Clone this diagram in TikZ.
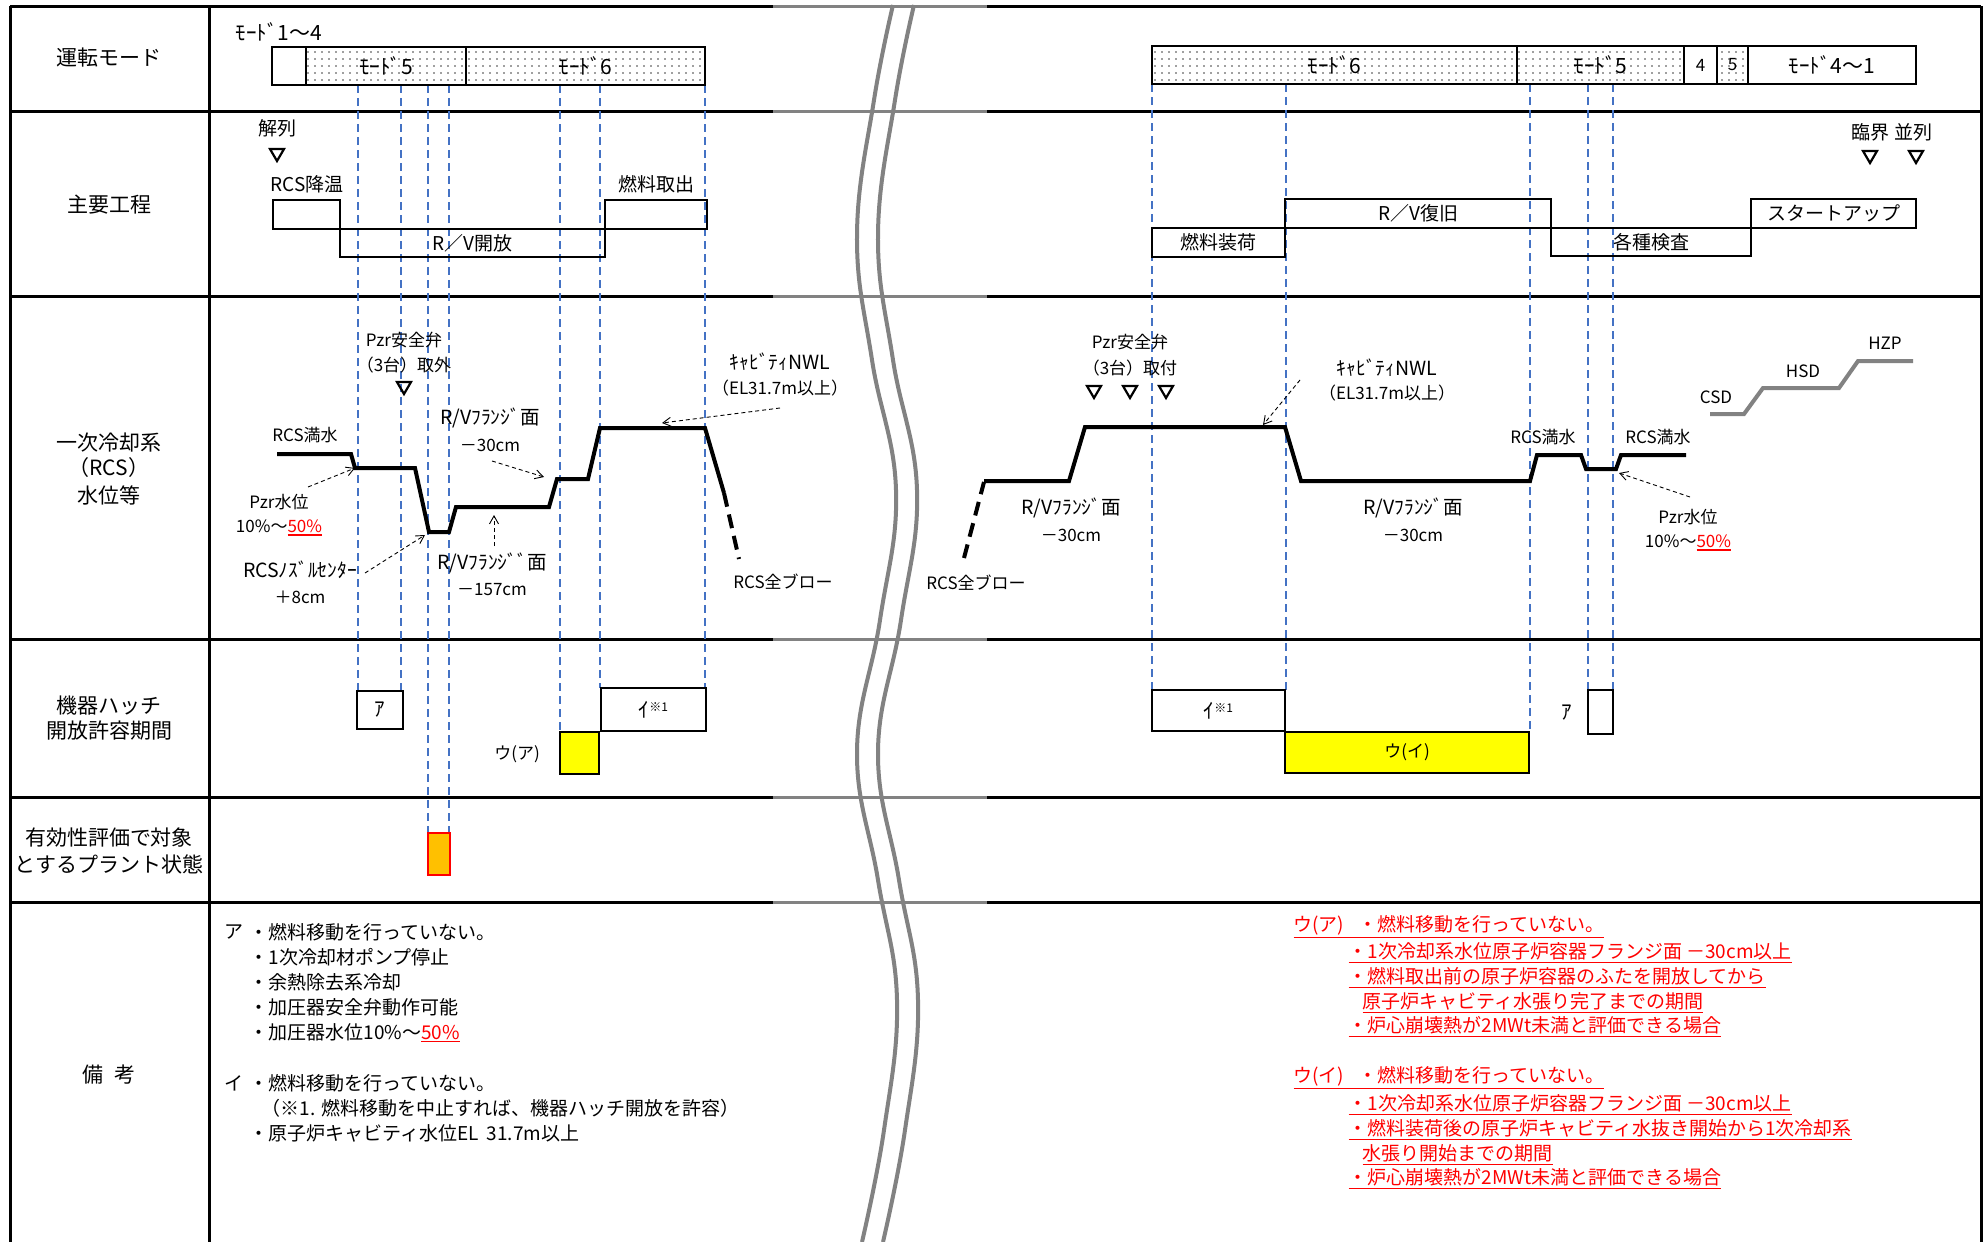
\documentclass[tikz,border=0pt]{standalone}
\usepackage{fontspec}
\setmainfont{Noto Sans CJK JP}
\usetikzlibrary{arrows.meta,patterns.meta}
\definecolor{gblue}{RGB}{68,114,196}
\definecolor{hlyellow}{RGB}{255,255,0}
\definecolor{hlorange}{RGB}{255,192,0}
\definecolor{brkgray}{RGB}{130,130,130}
\newcommand\ulin[1]{\vtop{\hbox{#1}\kern1.2pt\hrule height 1.6pt}}
\newcommand\drawbox[7]{\node[#6, minimum width={#4-#2}, minimum height={#5-#3}] (#1) at ({(#2+#4)/2},{(#3+#5)/2}) {#7};}
\newcommand\tridown[2]{\draw[line width=2.2pt, line join=miter] ({#1-7},{#2-6}) -- ({#1+7},{#2-6}) -- (#1,{#2+6}) -- cycle;}
\begin{document}
\begin{tikzpicture}[x=1pt,y=-1pt,
  tbl/.style={line width=3pt, black},
  guide/.style={gblue, line width=2pt, dash pattern=on 8pt off 5pt},
  lvl/.style={line width=4pt, line join=miter},
  lvldash/.style={line width=4pt, dash pattern=on 14pt off 8pt},
  ann/.style={line width=0.9pt, dash pattern=on 4pt off 3pt, -{Straight Barb[length=8pt,width=9pt]}},
  box/.style={draw, line width=2.8pt, inner sep=0pt},
  dotbox/.style={box, pattern={Dots[distance=7pt,radius=0.9pt]}, pattern color=black!75},
  fL/.style={font=\fontsize{21}{25}\selectfont},
  fM/.style={font=\fontsize{19}{23}\selectfont},
  fS/.style={font=\fontsize{17}{20}\selectfont},
  fK/.style={font=\fontsize{19.5}{22}\selectfont},
  fMode/.style={font=\fontsize{21}{24}\selectfont},
  fR/.style={font=\fontsize{19}{22}\selectfont},
  brk/.style={brkgray, line width=4pt}
]
\useasboundingbox (0,0) rectangle (1984,1242);
\fill[white] (0,0) rectangle (1984,1242);

% ---------- table ----------
\foreach \yy in {6,111,296,639,797,902}{
  \draw[tbl] (10,\yy) -- (1981,\yy);
  \draw[brkgray, line width=3pt] (773,\yy) -- (987,\yy);
}
\draw[tbl] (10,6) -- (10,1242);
\draw[tbl] (209,6) -- (209,1242);
\draw[tbl] (1981,6) -- (1981,1242);

% ---------- break lines ----------
\draw[brk] plot[smooth, tension=0.7] coordinates {(893,5) (874,100) (857,235) (872,360) (896,490) (880,620) (857,752) (878,880) (897,1000) (884,1130) (862,1242)};
\draw[brk] plot[smooth, tension=0.7] coordinates {(914,5) (895,100) (878,235) (893,360) (917,490) (901,620) (878,752) (899,880) (918,1000) (905,1130) (883,1242)};

% ---------- row labels ----------
\node[fL] (lMode) at (109,58) {運転モード};
\node[fL] (lProc) at (109,205) {主要工程};
\node[fL] (lRcsA) at (109,443) {一次冷却系};
\node[fL] (lRcsB) at (109,468) {（RCS）};
\node[fL] (lRcsC) at (109,495) {水位等};
\node[fL] (lHatchA) at (109,706) {機器ハッチ};
\node[fL] (lHatchB) at (109,731) {開放許容期間};
\node[fL] (lEvalA) at (109,838) {有効性評価で対象};
\node[fL] (lEvalB) at (109,864) {とするプラント状態};
\node[fL] (lNote) at (109,1075) {備\hspace{12pt}考};

% ---------- guide lines ----------
\foreach \xx/\yb in {358/691,401/691,428/833,449/833,560/732,600/688,705/688}{
  \draw[guide] (\xx,85) -- (\xx,\yb);
}
\foreach \xx/\yb in {1152/690,1286/690,1530/732,1588/690,1613/690}{
  \draw[guide] (\xx,84) -- (\xx,\yb);
}

% ---------- mode row ----------
\node[fMode] (mAL) at (279,32) {ﾓｰﾄﾞ1～4};
\drawbox{mL0}{272}{47}{306}{85}{box}{}
\drawbox{mL5}{306}{47}{466}{85}{dotbox,fMode}{ﾓｰﾄﾞ5}
\drawbox{mL6}{466}{47}{705}{85}{dotbox,fMode}{ﾓｰﾄﾞ6}
\drawbox{mR6}{1152}{46}{1517}{84}{dotbox,fMode}{ﾓｰﾄﾞ6}
\drawbox{mR5}{1517}{46}{1684}{84}{dotbox,fMode}{ﾓｰﾄﾞ5}
\drawbox{mR4}{1684}{46}{1717}{84}{box,fS}{4}
\drawbox{mR5b}{1717}{46}{1748}{84}{dotbox,fS}{5}
\drawbox{mR41}{1748}{46}{1916}{84}{box,fMode}{ﾓｰﾄﾞ4～1}

% ---------- main process row ----------
\node[fM] (tTrip) at (277,128) {解列};
\tridown{277}{155}
\node[fM] (tCool) at (307,184) {RCS降温};
\drawbox{pCool}{273}{200}{340}{229}{box}{}
\drawbox{pOpen}{340}{229}{605}{257}{box,fM}{R／V開放}
\node[fM] (tOut) at (656,184) {燃料取出};
\drawbox{pOut}{605}{200}{707}{229}{box}{}
\node[fM] (tCrit) at (1892,132) {臨界 並列};
\tridown{1870}{157}
\tridown{1916}{157}
\drawbox{pLoad}{1152}{228}{1285}{257}{box,fM}{燃料装荷}
\drawbox{pRest}{1285}{199}{1551}{228}{box,fM}{R／V復旧}
\drawbox{pInsp}{1551}{228}{1751}{256}{box,fM}{各種検査}
\drawbox{pStart}{1751}{199}{1916}{228}{box,fM}{スタートアップ}

% ---------- RCS level row (left) ----------
\draw[lvl] (277,454) -- (351,454) -- (355,468) -- (415,468) -- (429,532) -- (449,532) -- (456,507) -- (549,507) -- (557,479) -- (588,479) -- (600,428) -- (705,428) -- (724,493);
\draw[lvldash] (724,493) -- (739,559);
\node[fS] (aFullL) at (305,435) {RCS満水};
\node[fS] (aPzrA) at (404,340) {Pzr安全弁};
\node[fS] (aPzrB) at (404,365) {（3台）取外};
\tridown{404}{388}
\node[fK] (aFlA) at (490,418) {R/Vﾌﾗﾝｼﾞ面};
\node[fS] (aFlB) at (490,445) {－30cm};
\node[fK] (aNwlA) at (780,362) {ｷｬﾋﾞﾃｨNWL};
\node[fS] (aNwlB) at (780,388) {（EL31.7m以上）};
\node[fS] (aPzlA) at (279,502) {Pzr水位};
\node[fS] (aPzlB) at (279,528) {10\%～\textcolor{red}{\ulin{50\%}}};
\node[fK] (aNozA) at (300,570) {RCSﾉｽﾞﾙｾﾝﾀｰ};
\node[fS] (aNozB) at (300,597) {＋8cm};
\node[fK] (aFl2A) at (492,563) {R/Vﾌﾗﾝｼﾞﾞ面};
\node[fS] (aFl2B) at (492,590) {－157cm};
\node[fS] (aBlowL) at (783,582) {RCS全ブロー};
\draw[ann] (780,408) -- (662,423);
\draw[ann] (492,461) -- (544,477);
\draw[ann] (308,487) -- (355,468);
\draw[ann] (365,573) -- (425,535);
\draw[ann] (494,546) -- (494,515);

% ---------- RCS level row (right) ----------
\draw[lvldash] (964,558) -- (984,482);
\draw[lvl] (984,481) -- (1069,481) -- (1085,427) -- (1285,427) -- (1301,481) -- (1530,481) -- (1537,455) -- (1581,455) -- (1586,469) -- (1616,469) -- (1621,455) -- (1686,455);
\node[fS] (bPzrA) at (1130,342) {Pzr安全弁};
\node[fS] (bPzrB) at (1130,368) {（3台）取付};
\tridown{1094}{392}
\tridown{1130}{392}
\tridown{1166}{392}
\node[fK] (bNwlA) at (1387,368) {ｷｬﾋﾞﾃｨNWL};
\node[fS] (bNwlB) at (1387,393) {（EL31.7m以上）};
\node[fK] (bFlA) at (1071,508) {R/Vﾌﾗﾝｼﾞ面};
\node[fS] (bFlB) at (1071,535) {－30cm};
\node[fK] (bFl2A) at (1413,508) {R/Vﾌﾗﾝｼﾞ面};
\node[fS] (bFl2B) at (1413,535) {－30cm};
\node[fS] (bBlow) at (976,583) {RCS全ブロー};
\node[fS] (bFullA) at (1543,437) {RCS満水};
\node[fS] (bFullB) at (1658,437) {RCS満水};
\node[fS] (bPzlA) at (1688,517) {Pzr水位};
\node[fS] (bPzlB) at (1688,543) {10\%～\textcolor{red}{\ulin{50\%}}};
\draw[ann] (1300,380) -- (1263,425);
\draw[ann] (1690,497) -- (1619,473);
\draw[brkgray, line width=4pt] (1710,414) -- (1744,414) -- (1763,388) -- (1839,388) -- (1858,361) -- (1913,361);
\node[fS] (cCsd) at (1716,397) {CSD};
\node[fS] (cHsd) at (1803,371) {HSD};
\node[fS] (cHzp) at (1885,343) {HZP};

% ---------- hatch row ----------
\drawbox{hA}{357}{691}{403}{729}{box,fMode}{ｱ}
\drawbox{hI}{601}{688}{706}{731}{box,fMode}{ｲ\raisebox{6pt}{\fontsize{12}{13}\selectfont ※1}}
\drawbox{hU}{560}{732}{599}{774}{box,fill=hlyellow}{}
\node[fS] (hUl) at (517,754) {ウ(ア)};
\drawbox{hI2}{1152}{690}{1285}{731}{box,fMode}{ｲ\raisebox{6pt}{\fontsize{12}{13}\selectfont ※1}}
\drawbox{hU2}{1285}{732}{1529}{773}{box,fill=hlyellow,fS}{ウ(イ)}
\node[fMode] (hA2l) at (1567,713) {ｱ};
\drawbox{hA2}{1588}{690}{1613}{734}{box}{}

% ---------- evaluation row ----------
\drawbox{ev}{428}{833}{450}{875}{draw=red,line width=2.8pt,fill=hlorange,inner sep=0pt}{}

% ---------- remarks (left) ----------
\node[fR, anchor=west] (rA) at (221,932) {ア};
\node[fR, anchor=west] (rA1) at (246,932) {・燃料移動を行っていない。};
\node[fR, anchor=west] (rA2) at (246,957) {・1次冷却材ポンプ停止};
\node[fR, anchor=west] (rA3) at (246,982) {・余熱除去系冷却};
\node[fR, anchor=west] (rA4) at (246,1007) {・加圧器安全弁動作可能};
\node[fR, anchor=west] (rA5) at (246,1033) {・加圧器水位10\%～\textcolor{red}{\ulin{50\%}}};
\node[fR, anchor=west] (rI) at (221,1083) {イ};
\node[fR, anchor=west] (rI1) at (246,1083) {・燃料移動を行っていない。};
\node[fR, anchor=west] (rI2) at (258,1108) {（※1. 燃料移動を中止すれば、機器ハッチ開放を許容）};
\node[fR, anchor=west] (rI3) at (246,1133) {・原子炉キャビティ水位EL\hspace{8pt}31.7m以上};

% ---------- remarks (right, red) ----------
\begin{scope}[every node/.style={fR, anchor=west, text=red}]
\node (sA) at (1290,927) {\ulin{ウ(ア)\hspace{14pt}・燃料移動を行っていない。}};
\node (sA1) at (1345,953) {\ulin{・1次冷却系水位原子炉容器フランジ面 －30cm以上}};
\node (sA2) at (1345,978) {\ulin{・燃料取出前の原子炉容器のふたを開放してから}};
\node (sA3) at (1359,1003) {\ulin{原子炉キャビティ水張り完了までの期間}};
\node (sA4) at (1345,1027) {\ulin{・炉心崩壊熱が2MWt未満と評価できる場合}};
\node (sB) at (1290,1078) {\ulin{ウ(イ)\hspace{14pt}・燃料移動を行っていない。}};
\node (sB1) at (1345,1105) {\ulin{・1次冷却系水位原子炉容器フランジ面 －30cm以上}};
\node (sB2) at (1345,1130) {\ulin{・燃料装荷後の原子炉キャビティ水抜き開始から1次冷却系}};
\node (sB3) at (1359,1155) {\ulin{水張り開始までの期間}};
\node (sB4) at (1345,1179) {\ulin{・炉心崩壊熱が2MWt未満と評価できる場合}};
\end{scope}
\end{tikzpicture}
\end{document}
